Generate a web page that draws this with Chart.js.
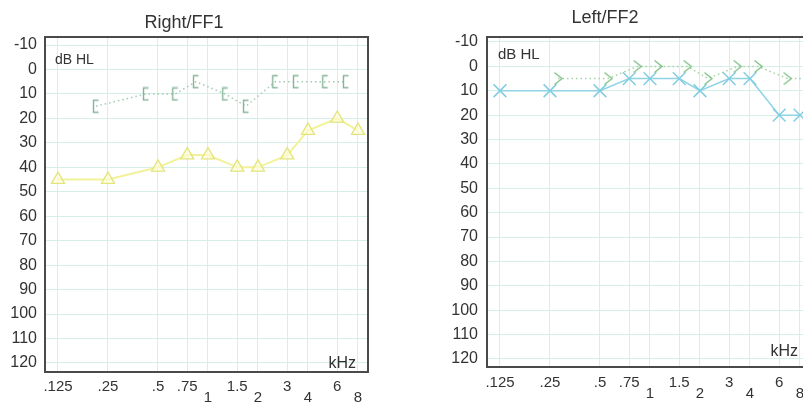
<!DOCTYPE html>
<html>
<head>
<meta charset="utf-8">
<script src="https://cdn.jsdelivr.net/npm/chart.js@4.4.0/dist/chart.umd.min.js"></script>
<style>
    html, body { margin: 0; padding: 0; background: #fff; overflow: hidden; width: 803px; height: 403px; }
    canvas { position: absolute; top: 0; }
    #ff1 { left: 0; }
    #ff2 { left: 400px; }
</style>
</head>
<body>
<canvas id="ff1" width="413" height="403"></canvas>
<canvas id="ff2" width="497" height="403"></canvas>
<script>
// frequencies (kHz) and labels
const freqs = [0.125, 0.25, 0.5, 0.75, 1, 1.5, 2, 3, 4, 6, 8];
const freqLabels = ['.125', '.25', '.5', '.75', '1', '1.5', '2', '3', '4', '6', '8'];
const dbTicks = [-10, 0, 10, 20, 30, 40, 50, 60, 70, 80, 90, 100, 110, 120];

// Right/FF1
const ff1Triangle = [45, 45, 40, 35, 35, 40, 40, 35, 25, 20, 25];
const ff1Bracket = [null, 15, 10, 10, 5, 10, 15, 5, 5, 5, 5];

// Left/FF2
const ff2Cross = [10, 10, 10, 5, 5, 5, 10, 5, 5, 20, 20];
const ff2Angle = [null, 5, 5, 0, 0, 0, 5, 0, 0, 5, 5];

const FONT = "'Liberation Sans', Arial, sans-serif";

function points(values) {
    return freqs.map((f, i) => ({ x: f, y: values[i] }));
}

// small canvas glyphs for the bone conduction symbols
function makeMarker(kind, color) {
    const c = document.createElement('canvas');
    c.width = 12; c.height = 15;
    const g = c.getContext('2d');
    g.strokeStyle = color;
    g.lineWidth = 1.4;
    g.beginPath();
    if (kind === 'bracket') {
        g.moveTo(8.5, 1.5); g.lineTo(3.5, 1.5); g.lineTo(3.5, 13.5); g.lineTo(8.5, 13.5);
    } else {
        g.moveTo(2.5, 1.5); g.lineTo(10, 7.5); g.lineTo(2.5, 13.5);
    }
    g.stroke();
    return c;
}

// symbols sit beside the frequency line, not on it
const shiftPlugin = {
    id: 'shiftX',
    beforeDatasetDraw(chart, args) {
        const dx = chart.data.datasets[args.index].shiftX;
        if (dx) { chart.ctx.save(); chart.ctx.translate(dx, 0); }
    },
    afterDatasetDraw(chart, args) {
        if (chart.data.datasets[args.index].shiftX) chart.ctx.restore();
    }
};

const framePlugin = {
    id: 'frame',
    afterDatasetsDraw(chart, args, opts) {
        const { ctx, chartArea: a } = chart;
        ctx.save();
        ctx.strokeStyle = '#4a4a4a';
        ctx.lineWidth = 2;
        ctx.strokeRect(a.left, a.top, a.right - a.left, a.bottom - a.top);
        ctx.fillStyle = '#333';
        ctx.textBaseline = 'middle';
        ctx.font = opts.dbFont + 'px ' + FONT;
        ctx.textAlign = 'left';
        ctx.fillText('dB HL', a.left + opts.dbX, a.top + opts.dbY);
        ctx.font = '16px ' + FONT;
        ctx.textAlign = 'right';
        ctx.fillText('kHz', a.right - opts.khzX, a.bottom - opts.khzY);
        ctx.restore();
    }
};

function makeChart(id, title, datasets, lay) {
    return new Chart(document.getElementById(id), {
        type: 'line',
        data: { datasets: datasets },
        plugins: [shiftPlugin, framePlugin],
        options: {
            responsive: false,
            animation: false,
            layout: { padding: { left: 0, right: lay.padRight, top: 0, bottom: 0 } },
            scales: {
                x: {
                    type: 'logarithmic',
                    min: 0.1044,
                    max: 9.19,
                    afterBuildTicks: s => { s.ticks = freqs.map(v => ({ value: v })); },
                    afterFit: s => { s.height = lay.xHeight; },
                    grid: { color: '#d6efe8', drawTicks: false },
                    border: { display: false },
                    ticks: {
                        autoSkip: false,
                        maxRotation: 0,
                        padding: lay.xPad,
                        color: '#333',
                        font: { family: FONT, size: 15, lineHeight: 0.7 },
                        callback: (v, i) => {
                            const f = freqs[i];
                            return (f >= 1 && Number.isInteger(Math.log2(f))) ? ['', freqLabels[i]] : [freqLabels[i]];
                        }
                    }
                },
                y: {
                    type: 'linear',
                    reverse: true,
                    min: lay.yMin,
                    max: lay.yMax,
                    afterBuildTicks: s => { s.ticks = dbTicks.map(v => ({ value: v })); },
                    afterFit: s => { s.width = lay.yWidth; },
                    grid: { color: '#d6efe8', drawTicks: false },
                    border: { display: false },
                    ticks: {
                        padding: lay.yPad,
                        color: '#333',
                        font: { family: FONT, size: 16 }
                    }
                }
            },
            plugins: {
                legend: { display: false },
                tooltip: { enabled: false },
                title: {
                    display: true,
                    text: title,
                    color: '#333',
                    font: { family: FONT, size: 18, weight: 'normal' },
                    padding: { top: lay.titleTop, bottom: lay.titleBottom }
                },
                frame: lay.frame
            }
        }
    });
}

makeChart('ff1', 'Right/FF1', [
    {
        data: points(ff1Bracket),
        borderColor: '#a3cbb0',
        borderWidth: 1.5,
        borderDash: [1.5, 3],
        pointStyle: makeMarker('bracket', '#86b497'),
        shiftX: -12
    },
    {
        data: points(ff1Triangle),
        borderColor: '#f2f29a',
        borderWidth: 2,
        pointStyle: 'triangle',
        pointRadius: 7.5,
        pointBorderColor: '#e4e47c',
        pointBackgroundColor: 'rgba(255,255,215,0.6)',
        pointBorderWidth: 1.3
    }
], {
    padRight: 45, xHeight: 31, xPad: 9.75, yWidth: 45, yPad: 8,
    yMin: -13.3, yMax: 123.7, titleTop: 12.4, titleBottom: 3,
    frame: { dbFont: 14, dbX: 10, dbY: 23, khzX: 12, khzY: 8 }
});

makeChart('ff2', 'Left/FF2', [
    {
        data: points(ff2Angle),
        borderColor: '#a6d2a6',
        borderWidth: 1.5,
        borderDash: [1.5, 3],
        pointStyle: makeMarker('angle', '#82c386'),
        shiftX: 8
    },
    {
        data: points(ff2Cross),
        borderColor: '#8fd4e4',
        borderWidth: 1.5,
        pointStyle: 'crossRot',
        pointRadius: 9,
        pointBorderColor: '#82cde0',
        pointBorderWidth: 1.5
    }
], {
    padRight: 87, xHeight: 36, xPad: 10.75, yWidth: 87, yPad: 9,
    yMin: -12.05, yMax: 123.3, titleTop: 7.4, titleBottom: 8,
    frame: { dbFont: 15, dbX: 11, dbY: 18, khzX: 12, khzY: 15 }
});
</script>
</body>
</html>
